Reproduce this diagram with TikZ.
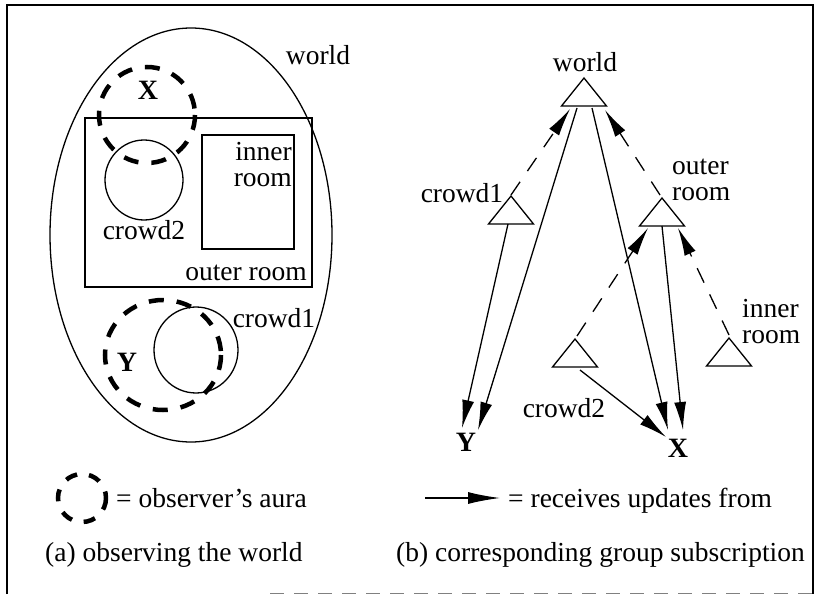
\documentclass[tikz,border=0pt]{standalone}
\usepackage{fontspec}
\setmainfont{Liberation Serif}
\usetikzlibrary{arrows.meta,calc}
\begin{document}
\begin{tikzpicture}[x=1pt,y=-1pt,
  lbl/.style={font=\fontsize{27.5}{26}\selectfont, inner sep=0pt},
  bigl/.style={font=\fontsize{27.5}{26}\selectfont, inner sep=0pt},
  obs/.style={font=\fontsize{28}{28}\selectfont\bfseries, inner sep=0pt},
  aura/.style={line width=4.5pt, dash pattern=on 15pt off 13pt},
  shapeln/.style={line width=1.3pt},
  tri/.style={draw, line width=1.3pt, line join=miter},
  sub/.style={line width=1.3pt, -{Latex[length=28pt,width=12pt]}},
  subd/.style={sub, dash pattern=on 16pt off 13pt},
  gtri/.pic={\draw[tri] (0,0) -- (-22.5,28) -- (22.5,28) -- cycle;}
]
\useasboundingbox (0,0) rectangle (816,596);
% frame
\draw[line width=1.5pt] (7,594) -- (7,5) -- (813,5) -- (813,594);
\draw[line width=1pt, gray, dash pattern=on 14pt off 10pt] (270,593) -- (813,593);

% ---------------- left panel ----------------
\draw[shapeln] (191,235) ellipse [x radius=141, y radius=207];
\node[lbl] (lworld) at (318,55) {world};
\draw[shapeln] (85,118) rectangle (312,287);
\draw[shapeln] (202,135) rectangle (294,249);
\node[lbl, align=right, anchor=east] (linner) at (292,165) {inner\\room};
\node[lbl] (louter) at (246,273) {outer room};
\draw[shapeln] (144,180) ellipse [x radius=39, y radius=40];
\node[lbl] (lcrowd2) at (144,230) {crowd2};
\draw[aura] (147,115) circle [radius=48];
\node[obs] (lX) at (148,90) {X};
\draw[shapeln] (196,350) ellipse [x radius=42, y radius=43];
\node[lbl] (lcrowd1) at (274,318) {crowd1};
\draw[aura] (163,355) ellipse [x radius=58, y radius=55];
\node[obs] (lY) at (127,362) {Y};

% legend (a)
\draw[aura, dash pattern=on 12pt off 12pt] (82,498) ellipse [x radius=24, y radius=24];
\node[lbl, anchor=base west] (laura) at (116,507) {= observer's aura};
\node[lbl, anchor=base west] (capa) at (45,561) {(a) observing the world};

% ---------------- right panel ----------------
\pic at (584,78) {gtri};
\pic at (511,196) {gtri};
\pic at (662,198) {gtri};
\pic at (575,339) {gtri};
\pic at (729,338) {gtri};
\node[lbl] (rworld) at (585,62) {world};
\node[lbl] (rcrowd1) at (462,193) {crowd1};
\node[bigl, align=left, anchor=west] (router) at (672,180) {outer\\room};
\node[lbl, align=left, anchor=west] (rinner) at (742,322) {inner\\room};
\node[lbl] (rcrowd2) at (564,408) {crowd2};
\node[obs] (rY) at (466,442) {Y};
\node[obs] (rX) at (678,448) {X};

% connector end points
\coordinate (wbl) at (570,109);
\coordinate (wbr) at (605,110);
\coordinate (wsl) at (577,108);
\coordinate (wsr) at (592,108);
\coordinate (c1top) at (511,195);
\coordinate (c1bot) at (508,224);
\coordinate (otop) at (660,195);
\coordinate (obl) at (648,228);
\coordinate (obr) at (678,228);
\coordinate (obm) at (662,226);
\coordinate (c2top) at (577,336);
\coordinate (c2bot) at (580,370);
\coordinate (itop) at (729,335);
\coordinate (ya) at (462,428);
\coordinate (yb) at (478,430);
\coordinate (xa) at (668,430);
\coordinate (xb) at (683,430);
\coordinate (xc) at (666,437);

\draw[subd] (c1top) -- (wbl);
\draw[subd] (otop) -- (wbr);
\draw[subd] (c2top) -- (obl);
\draw[subd] (itop) -- (obr);
\draw[sub] (wsl) -- (yb);
\draw[sub] (c1bot) -- (ya);
\draw[sub] (wsr) -- (xa);
\draw[sub] (obm) -- (xb);
\draw[sub] (c2bot) -- (xc);

% legend (b)
\coordinate (la1) at (425,498);
\coordinate (la2) at (500,498);
\draw[sub, -{Latex[length=32pt,width=12pt]}] (la1) -- (la2);
\node[lbl, anchor=base west] (lrecv) at (508,507) {= receives updates from};
\node[lbl, anchor=base west] (capb) at (396,561) {(b) corresponding group subscription};
\end{tikzpicture}
\end{document}
